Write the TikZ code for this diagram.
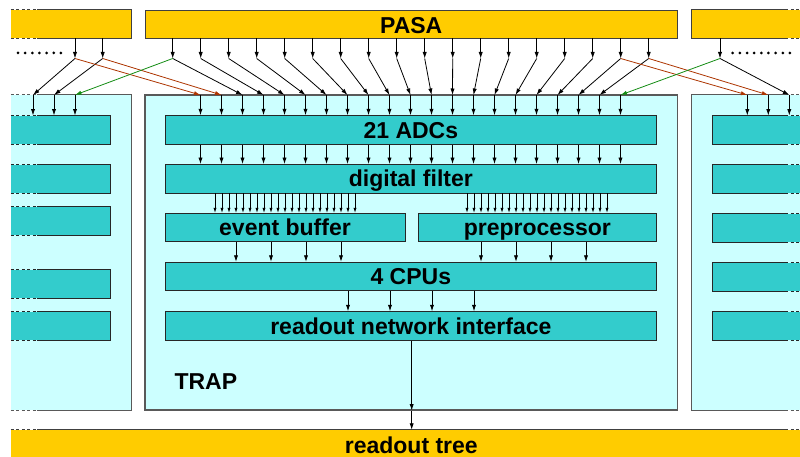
\documentclass[tikz,border=0pt]{standalone}
\usepackage{fontspec}
\setmainfont{Liberation Sans}
\usetikzlibrary{arrows.meta}

\definecolor{pasay}{RGB}{255,204,0}
\definecolor{trapbg}{RGB}{204,255,255}
\definecolor{unitc}{RGB}{51,204,204}
\definecolor{xred}{RGB}{172,52,0}
\definecolor{xgreen}{RGB}{20,140,20}

\tikzset{
  lbl/.style={font=\fontsize{23}{26}\selectfont\bfseries, text height=16.5pt, text depth=0pt, inner sep=0pt},
  pasabox/.style={fill=pasay, inner sep=0pt, minimum height=28pt},
  pasaedge/.style={draw=black!75, line width=0.9pt},
  trapbox/.style={fill=trapbg, inner sep=0pt, minimum height=315pt},
  trapedge/.style={draw=black!65, line width=1.2pt},
  unitbox/.style={fill=unitc, inner sep=0pt, minimum height=28.5pt},
  unitedge/.style={draw=black!85, line width=0.9pt},
  unit/.style={unitbox, unitedge, lbl},
  sig/.style={line width=0.8pt, -{Latex[length=6.5pt,width=4.2pt]}},
  fine/.style={line width=0.7pt, -{Latex[length=5pt,width=3.2pt]}},
  dotrow/.style={line width=3pt, line cap=round, dash pattern=on 0pt off 7.15pt},
  openend/.style={dash pattern=on 3pt off 2.5pt},
}

% border of a box that continues to the left (west side open)
\newcommand\edgeW[2]{%
  \draw[#2, openend] (#1.north west) -- ([xshift=26pt]#1.north west);
  \draw[#2, openend] (#1.south west) -- ([xshift=26pt]#1.south west);
  \draw[#2] ([xshift=26pt]#1.north west) -- (#1.north east) -- (#1.south east) -- ([xshift=26pt]#1.south west);
}
% border of a box that continues to the right (east side open)
\newcommand\edgeE[2]{%
  \draw[#2, openend] ([xshift=-15pt]#1.north east) -- (#1.north east);
  \draw[#2, openend] ([xshift=-15pt]#1.south east) -- (#1.south east);
  \draw[#2] ([xshift=-15pt]#1.north east) -- (#1.north west) -- (#1.south west) -- ([xshift=-15pt]#1.south east);
}

\begin{document}
\begin{tikzpicture}[x=1pt,y=-1pt]
\useasboundingbox (0,0) rectangle (800,457);

% ---------------- PASA row ----------------
\node[pasabox, minimum width=120pt] (pasaL) at (71,24) {};
\node[pasabox, pasaedge, minimum width=532.5pt, lbl, text height=20pt] (pasaC) at (411.25,24) {PASA};
\node[pasabox, minimum width=108.3pt] (pasaR) at (745.85,24) {};
\edgeW{pasaL}{pasaedge}
\edgeE{pasaR}{pasaedge}

% ---------------- TRAP chips ----------------
\node[trapbox, minimum width=120pt] (trapL) at (71,252.5) {};
\node[trapbox, trapedge, minimum width=532.5pt] (trapC) at (411.25,252.5) {};
\node[trapbox, minimum width=108.3pt] (trapR) at (745.85,252.5) {};
\edgeW{trapL}{trapedge}
\edgeE{trapR}{trapedge}

% readout tree
\node[fill=pasay, inner sep=0pt, minimum width=789pt, minimum height=27pt] (rtree) at (405.5,443.5) {};
\draw[pasaedge, openend] (rtree.north west) -- ([xshift=26pt]rtree.north west);
\draw[pasaedge] ([xshift=26pt]rtree.north west) -- ([xshift=-15pt]rtree.north east);
\draw[pasaedge, openend] ([xshift=-15pt]rtree.north east) -- (rtree.north east);
\node[lbl] (rtreelbl) at (411.3,445.5) {readout tree};

% units of the central TRAP
\node[unit, minimum width=491.7pt] (adc) at (410.85,130) {21 ADCs};
\node[unit, minimum width=491.7pt] (filter) at (410.85,178.75) {digital filter};
\node[unit, minimum width=240pt] (buffer) at (285,227.5) {event buffer};
\node[unit, minimum width=238.7pt] (preproc) at (537.35,227.5) {preprocessor};
\node[unit, minimum width=491.7pt] (cpus) at (410.85,276.5) {4 CPUs};
\node[unit, minimum width=491.7pt] (rni) at (410.85,326) {readout network interface};
\node[lbl, anchor=west] (traplbl) at (174.3,381) {TRAP};

% units of the neighbouring TRAPs
\foreach \y [count=\i] in {130,179,221,284,326} {
  \node[unitbox, minimum width=99pt] (uL\i) at (60.5,\y) {};
  \edgeW{uL\i}{unitedge}
}
\foreach \y [count=\i] in {130,179,228,277,326} {
  \node[unitbox, minimum width=87.7pt] (uR\i) at (756.15,\y) {};
  \edgeE{uR\i}{unitedge}
}

% ---------------- PASA outputs ----------------
\foreach \x [count=\i] in {75,102.7} {
  \coordinate (sL\i) at (\x,58.5);
  \draw[sig] (pasaL.south -| sL\i) -- (sL\i);
}
\foreach \k in {0,...,17} {
  \coordinate (sC\k) at ({172.7+28*\k},58.5);
  \draw[sig] (pasaC.south -| sC\k) -- (sC\k);
}
\coordinate (sR1) at (720,58.5);
\draw[sig] (pasaR.south -| sR1) -- (sR1);

\draw[dotrow] (18,53) -- (61.5,53);
\draw[dotrow] (732.7,53) -- (797,53);

% ---------------- TRAP inputs ----------------
\foreach \x [count=\i] in {33,54,75} \coordinate (iL\i) at (\x,95);
\foreach \k in {0,...,20} \coordinate (iC\k) at ({200.5+21*\k},95);
\foreach \x [count=\i] in {747.3,768.3,789.3} \coordinate (iR\i) at (\x,95);

% fan-out of the PASA channels
\draw[sig] (sL1) -- (iL1);
\draw[sig] (sL2) -- (iL2);
\foreach \k in {0,...,17} {
  \pgfmathtruncatemacro\j{\k+2}
  \draw[sig] (sC\k) -- (iC\j);
}
\draw[sig] (sR1) -- (iR3);
\draw[sig, xred] (sL1) -- (iC0);
\draw[sig, xred] (sL2) -- (iC1);
\draw[sig, xred] (sC16) -- (iR1);
\draw[sig, xred] (sC17) -- (iR2);
\draw[sig, xgreen] (sC0) -- (iL3);
\draw[sig, xgreen] (sR1) -- (iC20);

% into the ADC rows
\foreach \i in {1,2,3} \draw[sig] (iL\i) -- (uL1.north -| iL\i);
\foreach \i in {1,2,3} \draw[sig] (iR\i) -- (uR1.north -| iR\i);
\foreach \k in {0,...,20} \draw[sig] (iC\k) -- (adc.north -| iC\k);

% ADCs -> digital filter
\foreach \k in {0,...,20} \draw[sig] (adc.south -| iC\k) -- (filter.north -| iC\k);

% digital filter -> event buffer / preprocessor
\foreach \k in {0,...,20} {
  \coordinate (fb\k) at ({215+7*\k},0);
  \coordinate (fp\k) at ({467+7*\k},0);
  \draw[fine] (filter.south -| fb\k) -- (buffer.north -| fb\k);
  \draw[fine] (filter.south -| fp\k) -- (preproc.north -| fp\k);
}

% event buffer / preprocessor -> CPUs
\foreach \k in {0,...,3} {
  \coordinate (bc\k) at ({236+35*\k},0);
  \coordinate (pc\k) at ({481+35*\k},0);
  \draw[sig] (buffer.south -| bc\k) -- (cpus.north -| bc\k);
  \draw[sig] (preproc.south -| pc\k) -- (cpus.north -| pc\k);
}

% CPUs -> readout network interface
\foreach \k in {0,...,3} {
  \coordinate (cn\k) at ({348+42*\k},0);
  \draw[sig] (cpus.south -| cn\k) -- (rni.north -| cn\k);
}

% readout network interface -> readout tree
\coordinate (rx) at (411.7,0);
\draw[sig] (rni.south -| rx) -- (trapC.south -| rx);
\draw[sig] (trapC.south -| rx) -- (rtree.north -| rx);

\end{tikzpicture}
\end{document}
